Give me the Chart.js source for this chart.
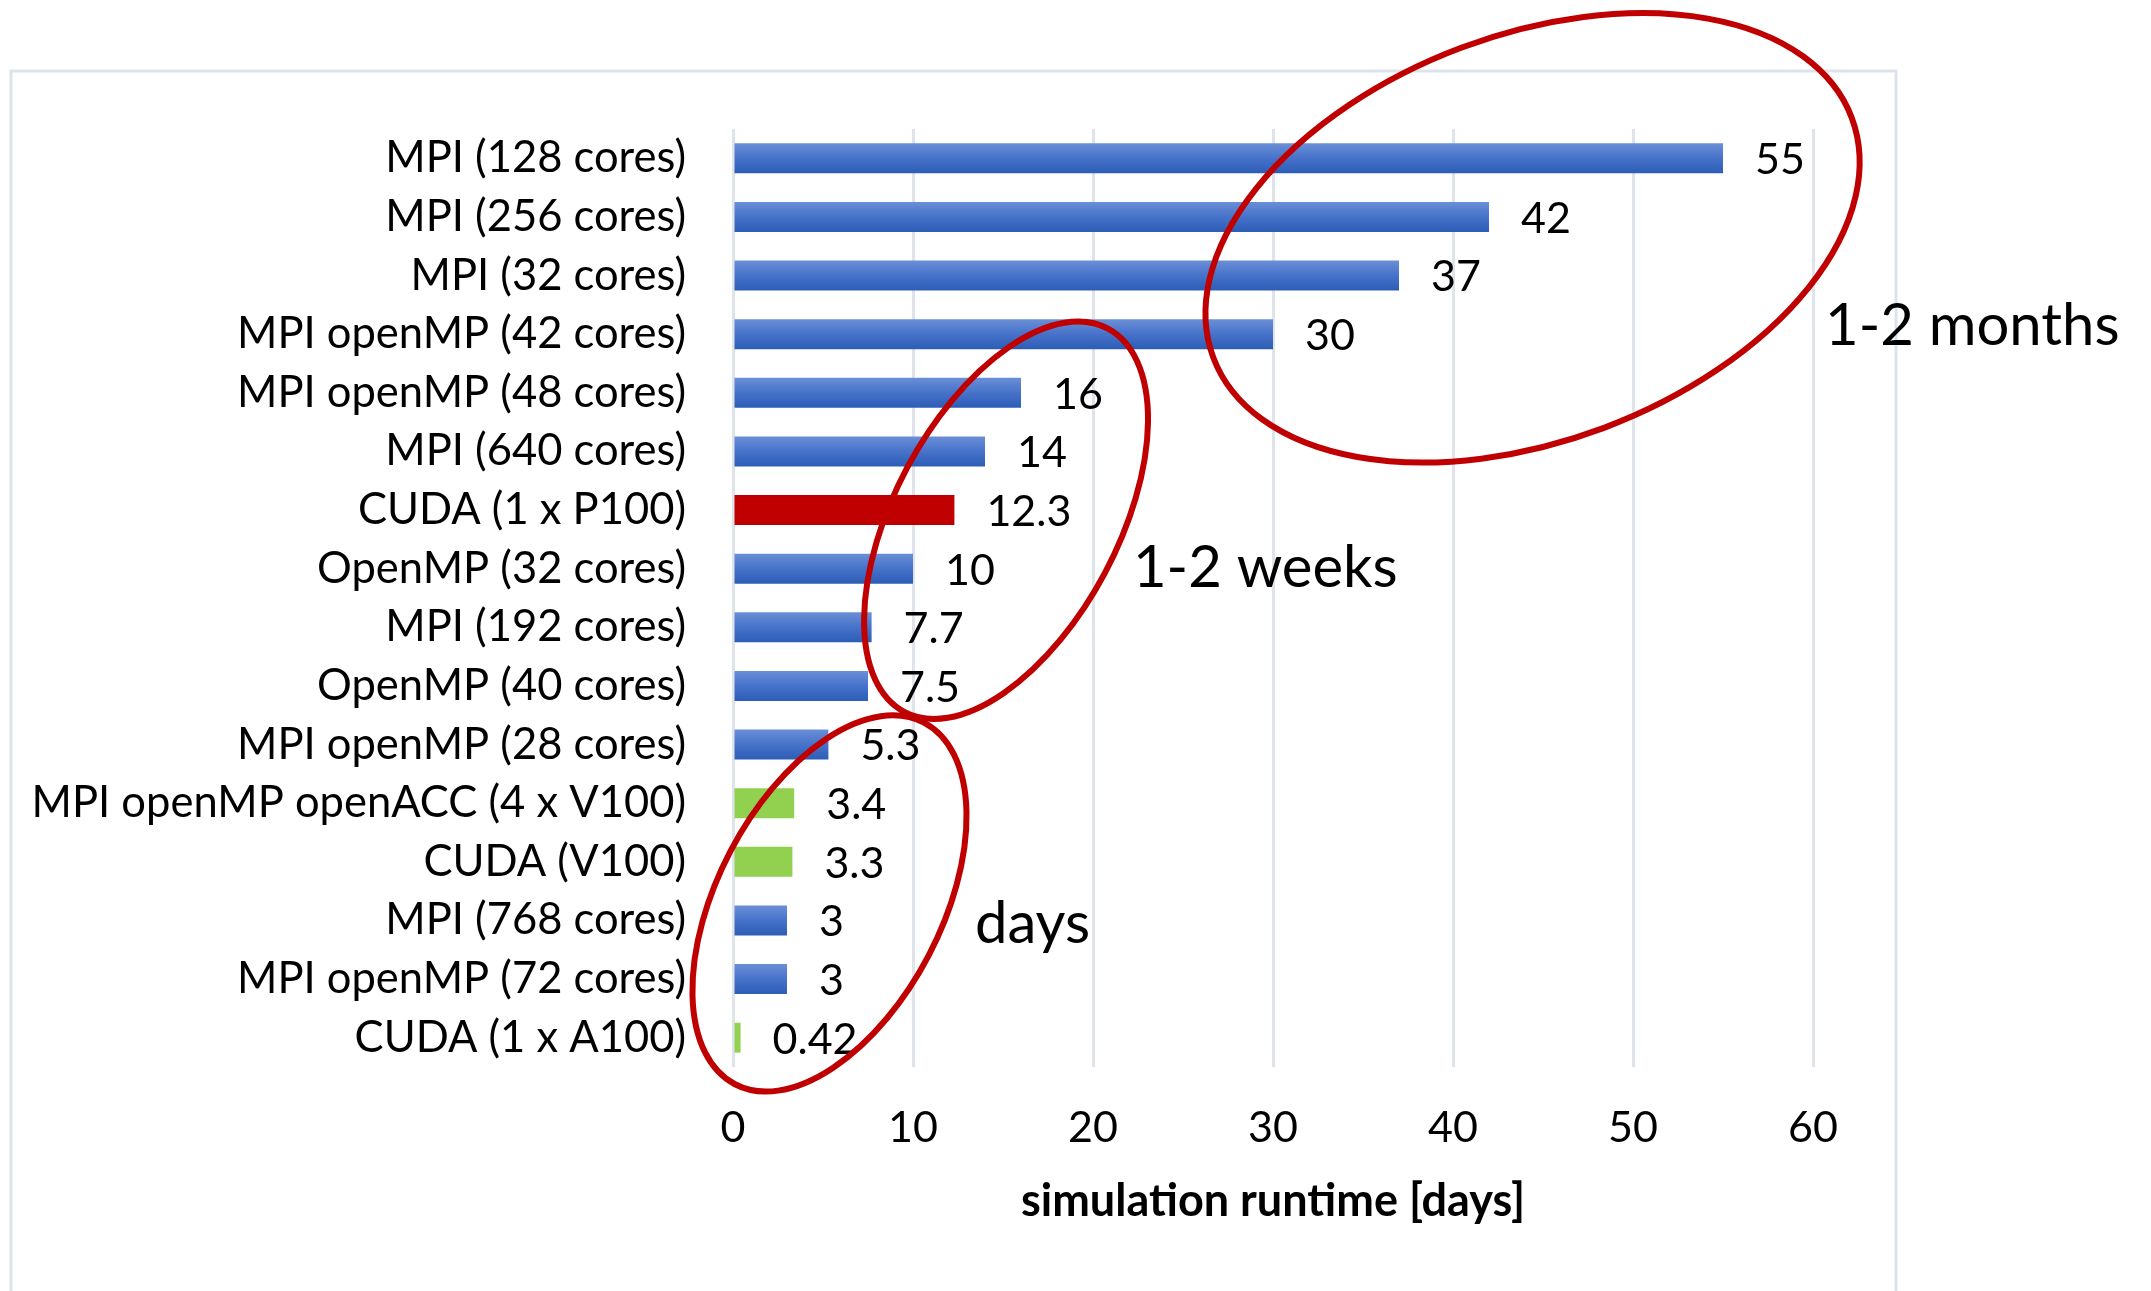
<!DOCTYPE html>
<html>
<head>
<meta charset="utf-8">
<script src="https://cdn.jsdelivr.net/npm/chart.js@4.4.1/dist/chart.umd.min.js"></script>
<style>
  html, body { margin: 0; padding: 0; background: #ffffff; overflow: hidden; }
  canvas { display: block; }
</style>
</head>
<body>
<canvas id="runtimeChart" width="2151" height="1291"></canvas>
<script>
// Implementations, from slowest to fastest
const categories = [
  'MPI (128 cores)',
  'MPI (256 cores)',
  'MPI (32 cores)',
  'MPI openMP (42 cores)',
  'MPI openMP (48 cores)',
  'MPI (640 cores)',
  'CUDA (1 x P100)',
  'OpenMP (32 cores)',
  'MPI (192 cores)',
  'OpenMP (40 cores)',
  'MPI openMP (28 cores)',
  'MPI openMP openACC (4 x V100)',
  'CUDA (V100)',
  'MPI (768 cores)',
  'MPI openMP (72 cores)',
  'CUDA (1 x A100)'
];

// Simulation runtime in days
const runtimeDays = [55, 42, 37, 30, 16, 14, 12.3, 10, 7.7, 7.5, 5.3, 3.4, 3.3, 3, 3, 0.42];

// Which kind of run each bar is (decides its colour)
const runKind = ['cpu', 'cpu', 'cpu', 'cpu', 'cpu', 'cpu', 'highlight', 'cpu', 'cpu', 'cpu', 'cpu', 'gpu', 'gpu', 'cpu', 'cpu', 'gpu'];

// Runtime axis ticks
const xTickValues = [0, 10, 20, 30, 40, 50, 60];

// Runtime groups circled on the chart
const groupNames = ['1-2 months', '1-2 weeks', 'days'];

const FONT = 'Lato, "Open Sans", "DejaVu Sans", sans-serif';
const BAR_PCT = 0.51;

// Placement of the circled groups: centre / label anchor in (days, category index)
const groupShapes = [
  { cx: 44.42, cy: 1.356, rx: 341, ry: 203, rot: -20.6, tx: 60.67, ty: 2.865 },
  { cx: 15.17, cy: 6.174, rx: 217, ry: 112, rot: -62.0, tx: 22.22, ty: 6.985 },
  { cx: 5.36,  cy: 12.71, rx: 204, ry: 112, rot: -62.4, tx: 13.44, ty: 13.07 }
];

function barFill(ctx) {
  const kind = runKind[ctx.dataIndex];
  if (kind === 'highlight') return '#c00000';
  if (kind === 'gpu') return '#92d050';
  const chart = ctx.chart;
  const y = chart.scales && chart.scales.y;
  if (!chart.chartArea || !y || !isFinite(y.getPixelForValue(0))) return '#4472c4';
  const c = y.getPixelForValue(ctx.dataIndex);
  const half = Math.abs(y.getPixelForValue(1) - y.getPixelForValue(0)) * BAR_PCT / 2;
  const g = chart.ctx.createLinearGradient(0, c - half, 0, c + half);
  g.addColorStop(0, '#6b8fd7');
  g.addColorStop(0.5, '#4672ca');
  g.addColorStop(1, '#2d5db6');
  return g;
}

// White background and the light outer frame
const framePlugin = {
  id: 'frame',
  beforeDraw(chart) {
    const c = chart.ctx;
    c.save();
    c.fillStyle = '#ffffff';
    c.fillRect(0, 0, chart.width, chart.height);
    c.strokeStyle = '#dde3eb';
    c.lineWidth = 3;
    c.strokeRect(11, 71, 1885, chart.height + 40);
    c.restore();
  }
};

// Value printed at the end of each bar
const valueLabelPlugin = {
  id: 'valueLabels',
  afterDatasetsDraw(chart) {
    const c = chart.ctx;
    const meta = chart.getDatasetMeta(0);
    c.save();
    c.font = '43px ' + FONT;
    c.fillStyle = '#000000';
    c.textAlign = 'left';
    c.textBaseline = 'middle';
    meta.data.forEach((bar, i) => {
      c.fillText(String(runtimeDays[i]), bar.x + 32, bar.y + 2);
    });
    c.restore();
  }
};

// Red ellipses around runtime groups and their captions
const groupPlugin = {
  id: 'groups',
  afterDraw(chart) {
    const c = chart.ctx;
    const xs = chart.scales.x, ys = chart.scales.y;
    c.save();
    c.strokeStyle = '#c00000';
    c.lineWidth = 6;
    groupShapes.forEach(g => {
      c.beginPath();
      c.ellipse(xs.getPixelForValue(g.cx), ys.getPixelForValue(g.cy), g.rx, g.ry, g.rot * Math.PI / 180, 0, Math.PI * 2);
      c.stroke();
    });
    c.fillStyle = '#000000';
    c.font = '58px ' + FONT;
    c.textAlign = 'left';
    c.textBaseline = 'middle';
    groupShapes.forEach((g, i) => {
      c.fillText(groupNames[i], xs.getPixelForValue(g.tx), ys.getPixelForValue(g.ty));
    });
    c.restore();
  }
};

new Chart(document.getElementById('runtimeChart'), {
  type: 'bar',
  data: {
    labels: categories,
    datasets: [{
      data: runtimeDays,
      backgroundColor: barFill,
      borderWidth: 0,
      barPercentage: BAR_PCT,
      categoryPercentage: 1
    }]
  },
  options: {
    indexAxis: 'y',
    responsive: false,
    animation: false,
    devicePixelRatio: 1,
    layout: { padding: { left: 0, top: 129, right: 338, bottom: 44 } },
    plugins: {
      legend: { display: false },
      tooltip: { enabled: false },
      title: { display: false }
    },
    scales: {
      x: {
        type: 'linear',
        min: 0,
        max: 60,
        afterBuildTicks(scale) { scale.ticks = xTickValues.map(v => ({ value: v })); },
        afterFit(scale) { scale.height = 180; },
        grid: { color: '#dfe3ea', lineWidth: 3, drawTicks: false },
        border: { display: false },
        ticks: { font: { family: FONT, size: 43 }, color: '#000000', padding: 35 },
        title: {
          display: true,
          text: 'simulation runtime [days]',
          font: { family: FONT, size: 45, weight: 'bold' },
          color: '#000000',
          padding: { top: 0, bottom: 19 }
        }
      },
      y: {
        type: 'category',
        afterFit(scale) { scale.width = 733; },
        grid: { display: false, drawTicks: false },
        border: { display: false },
        ticks: { font: { family: FONT, size: 43.5 }, color: '#000000', padding: 47, autoSkip: false }
      }
    }
  },
  plugins: [framePlugin, valueLabelPlugin, groupPlugin]
});
</script>
</body>
</html>
